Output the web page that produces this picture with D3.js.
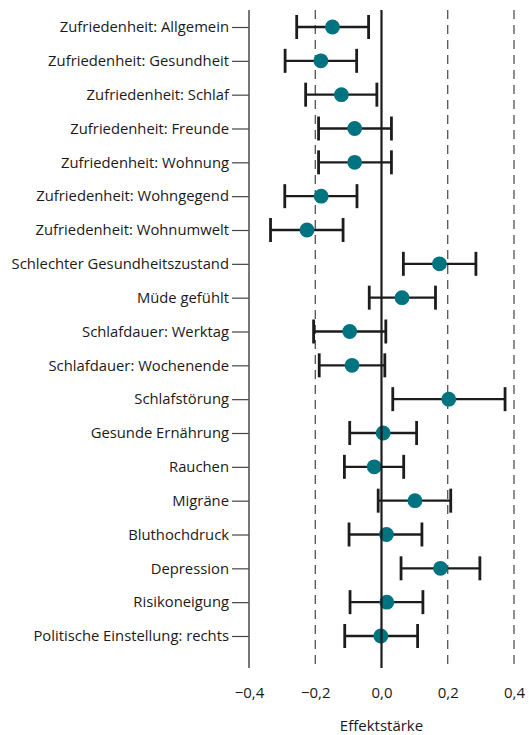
<!DOCTYPE html>
<html>
<head>
<meta charset="utf-8">
<script src="https://cdn.jsdelivr.net/npm/d3@7"></script>
<style>
  body { margin: 0; background: #fff; }
  text { font-family: "Open Sans", "Noto Sans", sans-serif; fill: #1a1a1a; }
</style>
</head>
<body>
<div id="container"></div>
<script>
// kategorien von oben nach unten
const labels = [
  "Zufriedenheit: Allgemein", "Zufriedenheit: Gesundheit", "Zufriedenheit: Schlaf",
  "Zufriedenheit: Freunde", "Zufriedenheit: Wohnung", "Zufriedenheit: Wohngegend",
  "Zufriedenheit: Wohnumwelt", "Schlechter Gesundheitszustand", "Müde gefühlt",
  "Schlafdauer: Werktag", "Schlafdauer: Wochenende", "Schlafstörung",
  "Gesunde Ernährung", "Rauchen", "Migräne", "Bluthochdruck", "Depression",
  "Risikoneigung", "Politische Einstellung: rechts"
];
const effekt = [-0.148, -0.183, -0.121, -0.081, -0.081, -0.182, -0.225, 0.175, 0.062,
  -0.096, -0.089, 0.203, 0.005, -0.022, 0.101, 0.015, 0.178, 0.016, -0.002];
const unten = [-0.256, -0.291, -0.229, -0.190, -0.190, -0.292, -0.335, 0.066, -0.037,
  -0.205, -0.188, 0.034, -0.096, -0.112, -0.010, -0.098, 0.059, -0.095, -0.111];
const oben = [-0.039, -0.075, -0.014, 0.030, 0.030, -0.074, -0.116, 0.285, 0.163,
  0.013, 0.010, 0.373, 0.106, 0.067, 0.209, 0.122, 0.297, 0.125, 0.109];
const xTicks = [-0.4, -0.2, 0, 0.2, 0.4];

const W = 529, H = 735;
const yTop = 10, yBottom = 668;

const svg = d3.select("#container").append("svg")
  .attr("width", W).attr("height", H);

const x = d3.scaleLinear().domain([-0.4, 0.4]).range([249, 514]);
const y = d3.scalePoint().domain(labels).range([27, 636]);

const de = d3.formatLocale({ decimal: ",", thousands: ".", grouping: [3], currency: ["", "€"] });
const fmt = de.format(".1f");

// gestrichelte linien
svg.append("g")
  .selectAll("line")
  .data(xTicks.filter(d => d !== 0 && d !== -0.4))
  .enter().append("line")
  .attr("x1", d => x(d)).attr("x2", d => x(d))
  .attr("y1", yTop).attr("y2", yBottom)
  .attr("stroke", "#333").attr("stroke-width", 1.1)
  .attr("stroke-dasharray", "9,6");

// y achse
const yAxis = svg.append("g")
  .attr("transform", `translate(${x(-0.4)},0)`)
  .call(d3.axisLeft(y).tickSize(17).tickPadding(3));
yAxis.select(".domain").remove();
yAxis.selectAll(".tick line").attr("stroke", "#444").attr("stroke-width", 1.2);
yAxis.selectAll(".tick text").style("font-size", "14.8px").attr("fill", "#1a1a1a");

svg.append("line")
  .attr("x1", x(-0.4)).attr("x2", x(-0.4))
  .attr("y1", yTop).attr("y2", yBottom)
  .attr("stroke", "#555").attr("stroke-width", 1.6);

// x achse (nur beschriftung)
const xAxis = svg.append("g")
  .attr("transform", `translate(0,${yBottom})`)
  .call(d3.axisBottom(x).tickValues(xTicks).tickSize(0).tickPadding(19).tickFormat(fmt));
xAxis.select(".domain").remove();
xAxis.selectAll(".tick text").style("font-size", "15px").attr("fill", "#1a1a1a");

svg.append("text")
  .attr("x", x(0)).attr("y", 731)
  .attr("text-anchor", "middle")
  .style("font-size", "15px")
  .text("Effektstärke");

// fehlerbalken
const rows = svg.append("g").selectAll("g")
  .data(labels.map((l, i) => ({ l, v: effekt[i], lo: unten[i], hi: oben[i] })))
  .enter().append("g");

rows.append("line")
  .attr("x1", d => x(d.lo)).attr("x2", d => x(d.hi))
  .attr("y1", d => y(d.l)).attr("y2", d => y(d.l))
  .attr("stroke", "#1c1c1c").attr("stroke-width", 2.4);

["lo", "hi"].forEach(k => {
  rows.append("line")
    .attr("x1", d => x(d[k])).attr("x2", d => x(d[k]))
    .attr("y1", d => y(d.l) - 12).attr("y2", d => y(d.l) + 12)
    .attr("stroke", "#1c1c1c").attr("stroke-width", 2.8);
});

// nulllinie
svg.append("line")
  .attr("x1", x(0)).attr("x2", x(0))
  .attr("y1", yTop).attr("y2", yBottom)
  .attr("stroke", "#1c1c1c").attr("stroke-width", 2.2);

rows.append("circle")
  .attr("cx", d => x(d.v)).attr("cy", d => y(d.l))
  .attr("r", 7.4)
  .attr("fill", "#007380");
</script>
</body>
</html>
